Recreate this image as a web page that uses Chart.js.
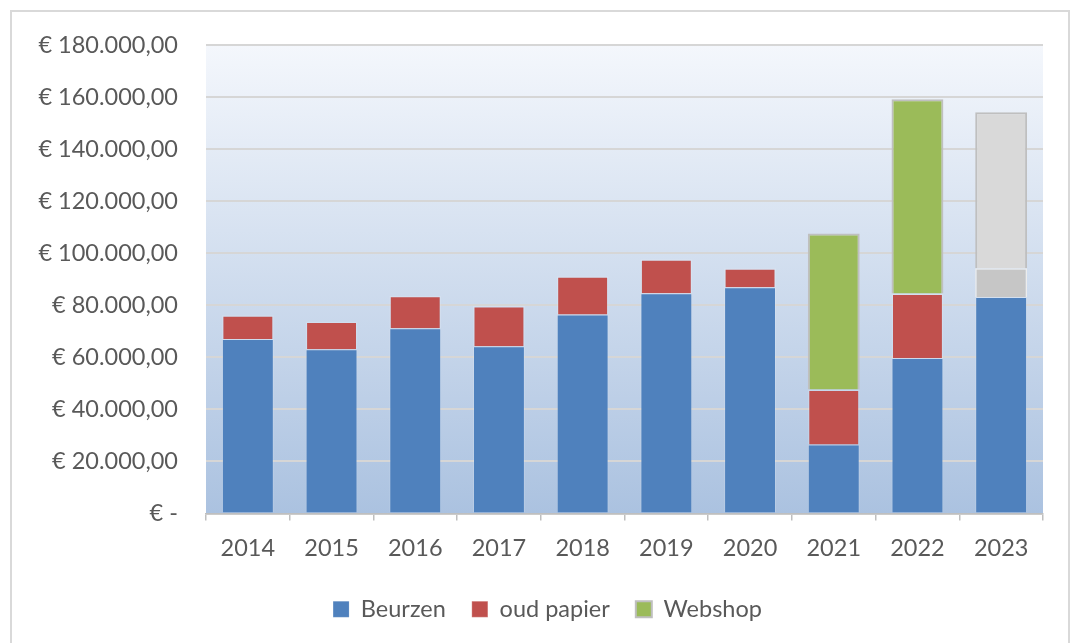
<!DOCTYPE html>
<html lang="nl">
<head>
    <meta charset="UTF-8">
    <title>Opbrengsten per jaar</title>
    <script src="https://cdn.jsdelivr.net/npm/chart.js"></script>
    <style>
        body { margin: 0; background: #ffffff; }
        .frame {
            position: absolute; left: 10px; top: 10px;
            width: 1060px; height: 700px;
            border: 2px solid #d9d9d9;
            box-sizing: border-box;
        }
        .wrap { position: absolute; left: 0; top: 0; width: 1075px; height: 643px; }
    </style>
</head>
<body>
    <div class="frame"></div>
    <div class="wrap"><canvas id="chart"></canvas></div>

    <script>
        // data
        const years = ["2014", "2015", "2016", "2017", "2018", "2019", "2020", "2021", "2022", "2023"];
        const beurzen = [67000, 63100, 71200, 64300, 76500, 84600, 86900, 26500, 59700, 83200];
        const oudPapier = [9200, 10700, 12500, 15400, 14700, 13100, 7300, 21100, 24800, 11000];
        const webshop = [0, 0, 0, 0, 0, 0, 0, 60000, 74700, 60000];

        const blue = "#4f81bd", red = "#c0504d", green = "#9bbb59";
        const lastIdx = years.length - 1;   // 2023 is drawn in grey

        function euro(v) {
            if (v === 0) return "€ -";
            const s = Math.round(v).toString().replace(/\B(?=(\d{3})+(?!\d))/g, ".");
            return "€ " + s + ",00";
        }

        const plotBackground = {
            id: "plotBackground",
            beforeDraw(chart) {
                const { ctx, chartArea: a } = chart;
                const g = ctx.createLinearGradient(0, a.top, 0, a.bottom);
                g.addColorStop(0, "#f4f7fc");
                g.addColorStop(1, "#abc2e0");
                ctx.save();
                ctx.fillStyle = g;
                ctx.fillRect(a.left, a.top, a.right - a.left, a.bottom - a.top);
                ctx.restore();
            }
        };

        const font = { family: "Lato", size: 23.5 };

        new Chart(document.getElementById("chart"), {
            type: "bar",
            data: {
                labels: years,
                datasets: [{
                    label: "Beurzen",
                    data: beurzen,
                    backgroundColor: blue,
                    borderColor: "rgba(255,255,255,0.15)",
                    borderWidth: 1
                }, {
                    label: "oud papier",
                    data: oudPapier,
                    backgroundColor: years.map((y, i) => i === lastIdx ? "#c6c6c6" : red),
                    borderColor: years.map((y, i) => i === lastIdx ? "#ececec" : "rgba(255,255,255,0.15)"),
                    borderWidth: 1.5
                }, {
                    label: "Webshop",
                    data: webshop,
                    backgroundColor: years.map((y, i) => i === lastIdx ? "#d9d9d9" : green),
                    borderColor: "#bfbfbf",
                    borderWidth: 2
                }]
            },
            options: {
                responsive: true,
                maintainAspectRatio: false,
                animation: false,
                layout: { padding: { top: 45, right: 0, bottom: 12, left: 20 } },
                datasets: { bar: { categoryPercentage: 1, barPercentage: 0.62 } },
                scales: {
                    x: {
                        stacked: true,
                        afterFit: s => { s.height = 58; },
                        border: { color: "#bfbfbf", width: 1.5 },
                        grid: { offset: true, drawOnChartArea: false, color: "#bfbfbf", tickLength: 7, lineWidth: 1.5 },
                        ticks: { color: "#595959", font: font, padding: 14 }
                    },
                    y: {
                        stacked: true,
                        min: 0,
                        max: 180000,
                        afterFit: s => { s.width = 186; },
                        border: { display: false },
                        grid: { color: "#d6d6d6", lineWidth: 2, drawTicks: false },
                        ticks: { stepSize: 20000, color: "#595959", font: font, padding: 28, callback: v => euro(v) }
                    },
                    // empty right-hand space, keeps the legend centred on the whole frame
                    yRight: {
                        position: "right",
                        afterFit: s => { s.width = 32; },
                        border: { display: false },
                        grid: { display: false },
                        ticks: { display: false }
                    }
                },
                plugins: {
                    legend: {
                        position: "bottom",
                        labels: { color: "#595959", font: font, boxWidth: 16, boxHeight: 16, padding: 26 }
                    },
                    tooltip: { enabled: false }
                }
            },
            plugins: [plotBackground]
        });
    </script>
</body>
</html>
